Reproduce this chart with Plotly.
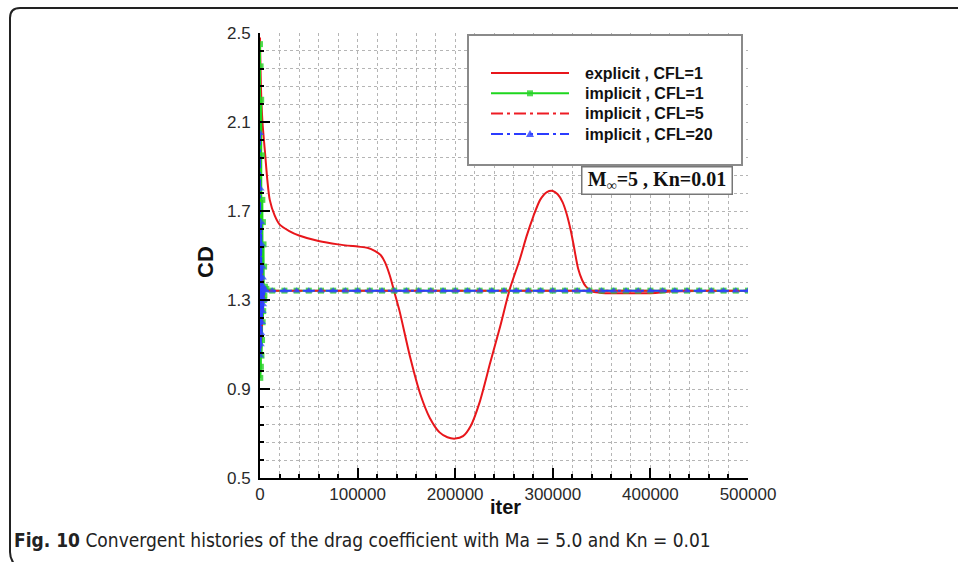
import plotly.graph_objects as go

# ---------------- data ----------------
explicit_x = [0, 1000, 2500, 5000, 7500, 10000, 15000, 20000, 30000, 40000, 60000, 80000,
              100000, 110000, 118000, 124000, 128000, 133000, 138000, 143000, 154000, 164000,
              174000, 184000, 192000, 200000, 208000, 216000, 225000, 236000, 246000, 256000,
              266000, 273000, 280000, 287000, 294000, 300000, 305000, 310000, 314000, 318000,
              321000, 326000, 330000, 334000, 341000, 350000, 380000, 405000, 420000, 450000, 500000]
explicit_cd = [2.48, 2.25, 2.1, 1.97, 1.84, 1.75, 1.68, 1.64, 1.61, 1.59, 1.565, 1.55,
               1.54, 1.535, 1.52, 1.5, 1.47, 1.41, 1.33, 1.25, 1.04, 0.88,
               0.77, 0.705, 0.683, 0.677, 0.688, 0.735, 0.84, 1.02, 1.18, 1.35,
               1.48, 1.585, 1.675, 1.75, 1.785, 1.79, 1.775, 1.74, 1.69, 1.62,
               1.555, 1.44, 1.39, 1.36, 1.338, 1.332, 1.33, 1.332, 1.338, 1.34, 1.34]

steady_x = [12500, 25000, 37500, 50000, 62500, 75000, 87500, 100000, 112500, 125000,
            137500, 150000, 162500, 175000, 187500, 200000, 212500, 225000, 237500, 250000,
            262500, 275000, 287500, 300000, 312500, 325000, 337500, 350000, 362500, 375000,
            387500, 400000, 412500, 425000, 437500, 450000, 462500, 475000, 487500, 500000]
steady_cd = [1.342, 1.342, 1.342, 1.342, 1.342, 1.342, 1.342, 1.342, 1.342, 1.342,
             1.342, 1.342, 1.342, 1.342, 1.342, 1.342, 1.342, 1.342, 1.342, 1.342,
             1.342, 1.342, 1.342, 1.342, 1.342, 1.342, 1.342, 1.342, 1.342, 1.342,
             1.342, 1.342, 1.342, 1.342, 1.342, 1.342, 1.342, 1.342, 1.342, 1.342]

imp1_start_x = [0, 300, 600, 900, 1200, 1500, 1800, 2100, 2400, 2700, 3000, 3300, 3600, 3900, 4200, 4500, 5000, 6500]
imp1_start_cd = [2.45, 0.95, 2.35, 1.0, 2.2, 1.05, 1.95, 1.12, 1.75, 1.2, 1.65, 1.25, 1.55, 1.3, 1.45, 1.32, 1.36, 1.35]

imp5_start_x = [0, 400, 800, 1200, 1600, 2000, 2400, 2800, 3200, 3600, 4000, 5000]
imp5_start_cd = [1.55, 1.08, 1.5, 1.12, 1.45, 1.18, 1.4, 1.25, 1.36, 1.3, 1.35, 1.342]

imp20_start_x = [0, 300, 600, 900, 1200, 1500, 1800, 2100, 2400, 2700, 3000, 3300, 3600, 4000, 4500, 5500]
imp20_start_cd = [2.05, 1.05, 1.8, 1.1, 1.65, 1.15, 1.55, 1.2, 1.45, 1.25, 1.4, 1.28, 1.36, 1.3, 1.35, 1.342]

series_names = ["explicit , CFL=1", "implicit , CFL=1", "implicit , CFL=5", "implicit , CFL=20"]

# ---------------- layout helpers ----------------
W, H = 958, 562
L, R, T, B = 260, 748, 33, 478


def px(X):
    return (X - L) / (R - L)


def py(Y):
    return (B - Y) / (B - T)


RED, GREEN, RED2, BLUE = "#e8161b", "#1ed61e", "#ee1c24", "#2b3cff"
DASHDOT = "12px,4px,3px,4px"

fig = go.Figure()

fig.add_trace(go.Scatter(x=explicit_x, y=explicit_cd, mode="lines", name=series_names[0],
                         line=dict(color=RED, width=2, shape="spline", smoothing=0.7)))
fig.add_trace(go.Scatter(x=imp1_start_x + steady_x, y=imp1_start_cd + steady_cd, mode="lines+markers",
                         name=series_names[1],
                         line=dict(color=GREEN, width=2),
                         marker=dict(symbol="square", size=6, color="rgba(40,210,40,0.8)")))
fig.add_trace(go.Scatter(x=imp5_start_x + steady_x, y=imp5_start_cd + steady_cd, mode="lines",
                         name=series_names[2],
                         line=dict(color=RED2, width=2, dash=DASHDOT)))
fig.add_trace(go.Scatter(x=imp20_start_x + steady_x, y=imp20_start_cd + steady_cd, mode="lines+markers",
                         name=series_names[3],
                         line=dict(color=BLUE, width=2, dash=DASHDOT),
                         marker=dict(symbol="triangle-up", size=7, color="rgba(50,70,255,0.75)")))

grid = dict(showgrid=True, gridcolor="#b5b5b5", griddash="dot", gridwidth=1)
fig.update_xaxes(range=[0, 500000], tick0=0, dtick=100000, tickformat="d",
                 ticks="inside", ticklen=10, tickwidth=2, tickcolor="black",
                 showline=True, linecolor="black", linewidth=2, zeroline=False,
                 tickfont=dict(family="Liberation Sans", size=17, color="#2a2a2a"),
                 minor=dict(dtick=20000, tick0=0, ticks="inside", ticklen=4, tickcolor="black",
                            showgrid=True, gridcolor="#b5b5b5", griddash="dot", gridwidth=1),
                 **grid)
fig.update_yaxes(range=[0.5, 2.5], tick0=0.5, dtick=0.4, tickformat=".1f",
                 ticks="inside", ticklen=10, tickwidth=2, tickcolor="black",
                 showline=True, linecolor="black", linewidth=2, zeroline=False,
                 tickfont=dict(family="Liberation Sans", size=17, color="#2a2a2a"),
                 ticklabelstandoff=4,
                 minor=dict(dtick=0.08, tick0=0.5, ticks="inside", ticklen=4, tickcolor="black",
                            showgrid=True, gridcolor="#b5b5b5", griddash="dot", gridwidth=1),
                 **grid)

shapes = [
    # legend frame
    dict(type="rect", xref="paper", yref="paper", x0=px(468), x1=px(742), y0=py(165), y1=py(35),
         line=dict(color="#8a8a8a", width=2), fillcolor="white", layer="above"),
    # outer figure frame
    dict(type="path", xref="paper", yref="paper",
         path=(f"M {px(962)} {py(8)} L {px(20)} {py(8)} Q {px(10)} {py(8)} {px(10)} {py(18)} "
               f"L {px(10)} {py(552)} Q {px(10)} {py(560)} {px(16)} {py(566)}"),
         line=dict(color="#222222", width=2)),
]

# manual legend (sample lines, symbols and labels)
leg_rows = [73, 93.3, 113.5, 134]
leg_styles = [(RED, "solid"), (GREEN, "solid"), (RED2, DASHDOT), (BLUE, DASHDOT)]
for yy, (col, dsh) in zip(leg_rows, leg_styles):
    shapes.append(dict(type="line", xref="paper", yref="paper", x0=px(491), x1=px(569),
                       y0=py(yy), y1=py(yy), line=dict(color=col, width=2, dash=dsh), layer="above"))
shapes.append(dict(type="rect", xref="paper", yref="paper", x0=px(527), x1=px(533),
                   y0=py(leg_rows[1] + 3), y1=py(leg_rows[1] - 3),
                   fillcolor="rgba(40,210,40,0.8)", line=dict(width=0), layer="above"))
yb = leg_rows[3]
shapes.append(dict(type="path", xref="paper", yref="paper",
                   path=f"M {px(526)} {py(yb + 3)} L {px(534)} {py(yb + 3)} L {px(530)} {py(yb - 4)} Z",
                   fillcolor="rgba(50,70,255,0.85)", line=dict(width=0), layer="above"))

annotations = []
for yy, name in zip(leg_rows, series_names):
    annotations.append(dict(x=px(583), y=py(yy), xref="paper", yref="paper", showarrow=False,
                            xanchor="left", yanchor="middle", text=f"<b>{name}</b>",
                            font=dict(family="Liberation Sans", size=16, color="#111")))

annotations += [
    dict(x=px(656.5), y=py(180), xref="paper", yref="paper", showarrow=False,
         xanchor="center", yanchor="middle",
         text="<b>M<sub>∞</sub>=5 , Kn=0.01</b>",
         font=dict(family="Liberation Serif", size=20, color="#111"),
         width=145, height=22, borderpad=2, bordercolor="#777", borderwidth=1.5, bgcolor="white"),
    dict(x=px(505), y=py(507), xref="paper", yref="paper", showarrow=False,
         xanchor="center", yanchor="middle",
         text="<b>iter</b>", font=dict(family="Liberation Sans", size=20, color="#111")),
    dict(x=px(205), y=py(262), xref="paper", yref="paper", showarrow=False, textangle=-90,
         xanchor="center", yanchor="middle",
         text="<b>CD</b>", font=dict(family="Liberation Sans", size=22, color="#111")),
    dict(x=px(12), y=py(540), xref="paper", yref="paper", showarrow=False, xanchor="left",
         yanchor="middle",
         text="<b>Fig. 10</b> Convergent histories of the drag coefficient with Ma = 5.0 and Kn = 0.01",
         font=dict(family="Liberation Sans Narrow, DejaVu Sans Condensed, sans-serif", size=19,
                   color="#222")),
]

fig.update_layout(
    width=W, height=H,
    margin=dict(l=L, r=W - R, t=T, b=H - B, pad=0),
    paper_bgcolor="white", plot_bgcolor="white",
    showlegend=False,
    shapes=shapes, annotations=annotations,
)

fig.write_html("out.html")
